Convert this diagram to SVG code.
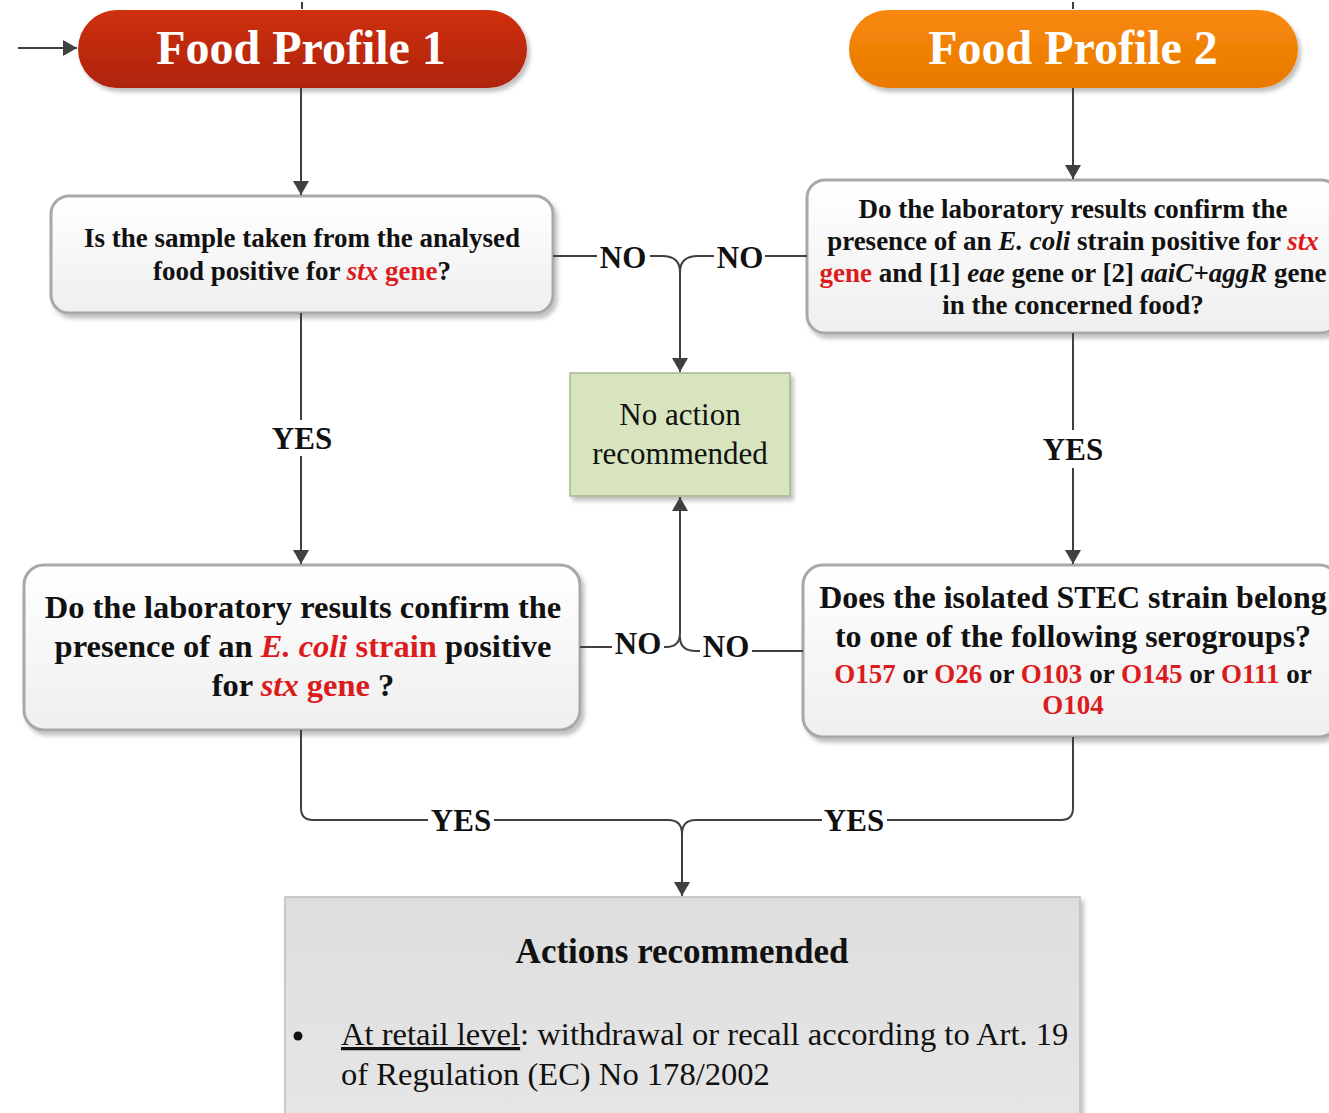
<svg xmlns="http://www.w3.org/2000/svg" width="1329" height="1113" viewBox="0 0 1329 1113">
<style>
.t{font-family:"Liberation Serif","Times New Roman",serif;fill:#111;}
.b{font-weight:bold;}
.r{fill:#dc1c1c;}
.i{font-style:italic;}
.box{fill:url(#gBox);stroke:#a8a8a8;stroke-width:3;}
.con{fill:none;stroke:#404040;stroke-width:2;}
.lab{font-family:"Liberation Serif","Times New Roman",serif;font-weight:bold;font-size:31px;fill:#111;text-anchor:middle;}
</style>
<defs>
<linearGradient id="gRed" x1="0" y1="0" x2="0" y2="1"><stop offset="0" stop-color="#cf300f"/><stop offset="1" stop-color="#ad2410"/></linearGradient>
<linearGradient id="gOr" x1="0" y1="0" x2="0" y2="1"><stop offset="0" stop-color="#f8890b"/><stop offset="1" stop-color="#e97900"/></linearGradient>
<linearGradient id="gBox" x1="0" y1="0" x2="0" y2="1"><stop offset="0" stop-color="#ffffff"/><stop offset="1" stop-color="#efefef"/></linearGradient>
<linearGradient id="gGrey" x1="0" y1="0" x2="0" y2="1"><stop offset="0" stop-color="#dedede"/><stop offset="1" stop-color="#e6e6e6"/></linearGradient>
<filter id="sh" x="-10%" y="-10%" width="130%" height="140%"><feDropShadow dx="3" dy="4" stdDeviation="2" flood-color="#000" flood-opacity="0.25"/></filter>
<marker id="ah" viewBox="0 0 14 16" refX="14" refY="8" markerWidth="14" markerHeight="16" markerUnits="userSpaceOnUse" orient="auto"><path d="M0,0 L14,8 L0,16 Z" fill="#404040"/></marker>
</defs>

<g id="fp1">
<rect x="78" y="10" width="449" height="78" rx="39" fill="url(#gRed)" filter="url(#sh)"/>
<text class="t b" x="301" y="64" font-size="48" text-anchor="middle" style="fill:#fff">Food Profile 1</text>
</g>
<g id="fp2">
<rect x="849" y="10" width="449" height="78" rx="39" fill="url(#gOr)" filter="url(#sh)"/>
<text class="t b" x="1073" y="64" font-size="48" text-anchor="middle" style="fill:#fff">Food Profile 2</text>
</g>

<g id="q1">
<rect class="box" x="51" y="196" width="502" height="117" rx="18" filter="url(#sh)"/>
<text class="t b" font-size="27" text-anchor="middle"><tspan x="302" y="247">Is the sample taken from the analysed</tspan><tspan x="302" y="280">food positive for <tspan class="r i">stx</tspan> <tspan class="r">gene</tspan>?</tspan></text>
</g>

<g id="q2">
<rect class="box" x="807" y="180" width="532" height="153" rx="18" filter="url(#sh)"/>
<text class="t b" font-size="27" text-anchor="middle"><tspan x="1073" y="218">Do the laboratory results confirm the</tspan><tspan x="1073" y="250">presence of an <tspan class="i">E. coli</tspan> strain positive for <tspan class="r i">stx</tspan></tspan><tspan x="1073" y="282"><tspan class="r">gene</tspan> and [1] <tspan class="i">eae</tspan> gene or [2] <tspan class="i">aaiC+aggR</tspan> gene</tspan><tspan x="1073" y="314">in the concerned food?</tspan></text>
</g>

<g id="noaction">
<rect x="570" y="373" width="220" height="123" fill="#d7e4bd" stroke="#a3b98a" stroke-width="1.5" filter="url(#sh)"/>
<text class="t" font-size="31" text-anchor="middle"><tspan x="680" y="425">No action</tspan><tspan x="680" y="464">recommended</tspan></text>
</g>

<g id="q3">
<rect class="box" x="24" y="565" width="556" height="165" rx="20" filter="url(#sh)"/>
<text class="t b" font-size="32.5" text-anchor="middle"><tspan x="303" y="618">Do the laboratory results confirm the</tspan><tspan x="303" y="657">presence of an <tspan class="r i">E. coli</tspan> <tspan class="r">strain</tspan> positive</tspan><tspan x="303" y="696">for <tspan class="r i">stx</tspan> <tspan class="r">gene</tspan> ?</tspan></text>
</g>

<g id="q4">
<rect class="box" x="803" y="565" width="536" height="172" rx="20" filter="url(#sh)"/>
<text class="t b" text-anchor="middle"><tspan x="1073" y="608" font-size="32">Does the isolated STEC strain belong</tspan><tspan x="1073" y="647" font-size="32">to one of the following serogroups?</tspan><tspan x="1073" y="683" font-size="27"><tspan class="r">O157</tspan> or <tspan class="r">O26</tspan> or <tspan class="r">O103</tspan> or <tspan class="r">O145</tspan> or <tspan class="r">O111</tspan> or</tspan><tspan x="1073" y="714" font-size="27" class="r">O104</tspan></text>
</g>

<g id="actions">
<rect x="285" y="897" width="795" height="240" fill="url(#gGrey)" stroke="#bdbdbd" stroke-width="1.5" filter="url(#sh)"/>
<text class="t b" x="682" y="963" font-size="35" text-anchor="middle">Actions recommended</text>
<circle cx="298" cy="1036" r="4.5" fill="#111"/>
<text class="t" font-size="32.6"><tspan x="341" y="1045"><tspan text-decoration="underline">At retail level</tspan>: withdrawal or recall according to Art. 19</tspan><tspan x="341" y="1085">of Regulation (EC) No 178/2002</tspan></text>
</g>

<g id="connectors">
<path class="con" d="M18,48 H77" marker-end="url(#ah)"/>
<path class="con" d="M302,2 V9 M1073,2 V9" stroke-width="1.5"/>
<path class="con" d="M301,88 V195" marker-end="url(#ah)"/>
<path class="con" d="M1073,88 V179" marker-end="url(#ah)"/>
<path class="con" d="M301,313 V420 M301,456 V564" marker-end="url(#ah)"/>
<path class="con" d="M1073,333 V430 M1073,468 V564" marker-end="url(#ah)"/>
<path class="con" d="M553,256 H597 M650,256 H662 Q680,256 680,272 V372" marker-end="url(#ah)"/>
<path class="con" d="M807,256 H765 M714,256 H698 Q680,256 680,272"/>
<path class="con" d="M580,647 H612 M664,647 H666 Q680,647 680,633 V497" marker-end="url(#ah)"/>
<path class="con" d="M803,651 H752 M700,651 H696 Q680,651 680,637"/>
<path class="con" d="M301,730 V808 Q301,820 313,820 H428 M494,820 H668 Q682,820 682,834 V896" marker-end="url(#ah)"/>
<path class="con" d="M1073,737 V808 Q1073,820 1061,820 H887 M822,820 H696 Q682,820 682,834"/>
<text class="lab" x="302" y="449">YES</text>
<text class="lab" x="1073" y="460">YES</text>
<text class="lab" x="623" y="268">NO</text>
<text class="lab" x="740" y="268">NO</text>
<text class="lab" x="638" y="654">NO</text>
<text class="lab" x="726" y="657">NO</text>
<text class="lab" x="461" y="831">YES</text>
<text class="lab" x="854" y="831">YES</text>
</g>
</svg>
